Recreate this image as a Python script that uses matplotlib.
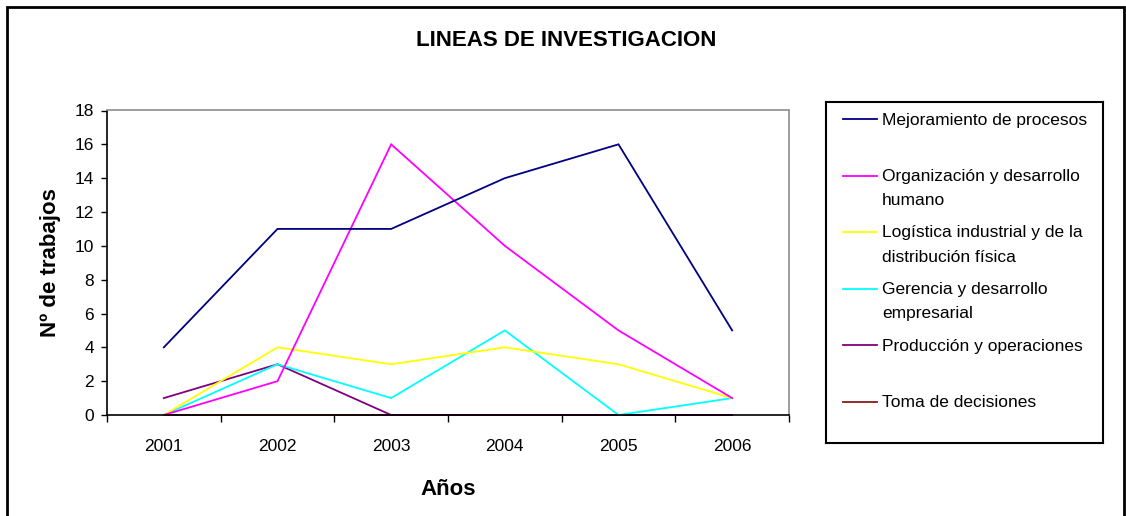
import matplotlib
matplotlib.use("Agg")
import matplotlib.pyplot as plt
from matplotlib.patches import Rectangle
from matplotlib.ticker import FixedLocator, NullFormatter

plt.rcParams['font.family'] = ['Liberation Sans', 'DejaVu Sans']

# --- data ---
years = ['2001', '2002', '2003', '2004', '2005', '2006']
mejoramiento = [4, 11, 11, 14, 16, 5]
organizacion = [0, 2, 16, 10, 5, 1]
logistica = [0, 4, 3, 4, 3, 1]
gerencia = [0, 3, 1, 5, 0, 1]
produccion = [1, 3, 0, 0, 0, 0]
toma_decisiones = [0, 0, 0, 0, 0, 0]

series_names = ['Mejoramiento de procesos',
                'Organización y desarrollo\nhumano',
                'Logística industrial y de la\ndistribución física',
                'Gerencia y desarrollo\nempresarial',
                'Producción y operaciones',
                'Toma de decisiones']
series_values = [mejoramiento, organizacion, logistica, gerencia, produccion, toma_decisiones]
colors = ['#000080', '#FF00FF', '#FFFF00', '#00FFFF', '#800080', '#8B1A1A']

W, H = 1126, 516
fig = plt.figure(figsize=(W / 100, H / 100), dpi=100)

# plot area
ax = fig.add_axes([107 / W, 1 - 415 / H, (789 - 107) / W, (415 - 110.5) / H])
x = list(range(1, len(years) + 1))
# last series first so it sits under the others
for vals, c in reversed(list(zip(series_values, colors))):
    ax.plot(x, vals, color=c, lw=1.3, clip_on=False, solid_joinstyle='miter')

ax.set_xlim(0.5, len(years) + 0.5)
ax.set_ylim(0, 18)
ax.set_yticks(range(0, 19, 2))
ax.xaxis.set_major_locator(FixedLocator([i + 0.5 for i in range(len(years) + 1)]))
ax.xaxis.set_major_formatter(NullFormatter())
ax.xaxis.set_minor_locator(FixedLocator(x))
ax.set_xticklabels(years, minor=True)
ax.tick_params(axis='x', which='major', direction='out', length=5, width=1)
ax.tick_params(axis='x', which='minor', length=0, pad=17, labelsize=12.5)
ax.tick_params(axis='y', direction='out', length=4.5, width=1, pad=5, labelsize=12.5)

for s in ['left', 'bottom']:
    ax.spines[s].set_color('black')
    ax.spines[s].set_linewidth(1.2)
for s in ['top', 'right']:
    ax.spines[s].set_color('#8c8c8c')
    ax.spines[s].set_linewidth(1.2)

ax.set_xlabel('Años', fontsize=16, fontweight='bold', labelpad=18)
ax.set_ylabel('Nº de trabajos', fontsize=16, fontweight='bold', labelpad=10)

fig.text(566 / W, 1 - 40 / H, 'LINEAS DE INVESTIGACION', ha='center', va='center',
         fontsize=16, fontweight='bold')

# legend box (pixel units inside)
lx0, ly0, lx1, ly1 = 826, 102, 1103, 443
lax = fig.add_axes([lx0 / W, 1 - ly1 / H, (lx1 - lx0) / W, (ly1 - ly0) / H])
lax.set_xlim(0, lx1 - lx0)
lax.set_ylim(ly1 - ly0, 0)
lax.set_xticks([])
lax.set_yticks([])
for s in lax.spines.values():
    s.set_linewidth(1.5)
    s.set_color('black')
for i, (name, c) in enumerate(zip(series_names, colors)):
    yy = 17 + 56.5 * i
    lax.plot([17, 51], [yy, yy], color=c, lw=1.3)
    lax.text(56, yy - 6.5, name, ha='left', va='top', fontsize=12.5,
             linespacing=1.75)

# outer chart border
fig.add_artist(Rectangle((7 / W, -0.05), (1124 - 7) / W, 1.05 - 7 / H,
                         transform=fig.transFigure, fill=False,
                         edgecolor='black', lw=2))

fig.savefig('out.png', dpi=100)
